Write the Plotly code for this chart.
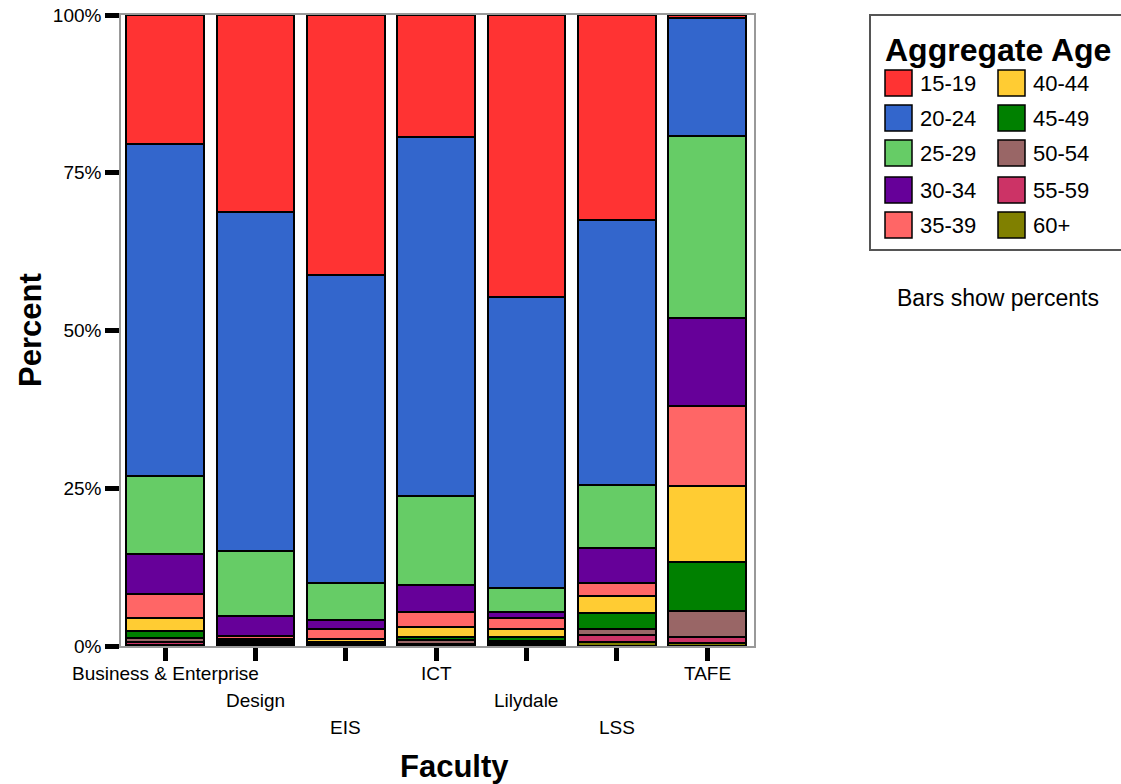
import plotly.graph_objects as go

faculties = ["Business & Enterprise", "Design", "EIS", "ICT", "Lilydale", "LSS", "TAFE"]
age_groups = ["15-19", "20-24", "25-29", "30-34", "35-39", "40-44", "45-49", "50-54", "55-59", "60+"]
colors = ["#FF3333", "#3366CC", "#66CC66", "#660099", "#FF6666",
          "#FFCC33", "#008000", "#996666", "#CC3366", "#808000"]

# percent of each faculty in each age group (columns follow `faculties`)
p_15_19 = [20.4, 31.2, 41.2, 19.3, 44.7, 32.5, 0.5]
p_20_24 = [52.6, 53.7, 48.8, 56.9, 46.1, 42.0, 18.7]
p_25_29 = [12.4, 10.3, 5.9, 14.1, 3.8, 10.0, 28.8]
p_30_34 = [6.3, 3.2, 1.4, 4.3, 1.0, 5.5, 13.9]
p_35_39 = [3.8, 0.5, 1.6, 2.4, 1.7, 2.1, 12.8]
p_40_44 = [2.2, 0.3, 0.4, 1.6, 1.3, 2.7, 12.0]
p_45_49 = [1.1, 0.3, 0.3, 0.5, 0.6, 2.5, 7.8]
p_50_54 = [0.6, 0.3, 0.2, 0.6, 0.4, 1.0, 4.1]
p_55_59 = [0.4, 0.2, 0.2, 0.2, 0.3, 1.1, 1.0]
p_60p = [0.2, 0.0, 0.0, 0.1, 0.1, 0.6, 0.4]

series = [p_15_19, p_20_24, p_25_29, p_30_34, p_35_39,
          p_40_44, p_45_49, p_50_54, p_55_59, p_60p]

y_ticks = [0, 25, 50, 75, 100]
y_tick_labels = ["0%", "25%", "50%", "75%", "100%"]

FONT = "Liberation Sans, Arial, sans-serif"

fig = go.Figure()
# stack from the bottom: oldest group first
for name, vals, col in reversed(list(zip(age_groups, series, colors))):
    fig.add_trace(go.Bar(
        x=faculties, y=vals, name=name,
        marker=dict(color=col, line=dict(color="black", width=2)),
        showlegend=False,
    ))

# plot-area pixel geometry
L, R, T, B = 121, 754, 15, 646
W, H = 1121, 784

def px(x):
    return (x - L) / (R - L)

def py(y):
    return (B - y) / (B - T)

annotations = []
# staggered category labels
for i, f in enumerate(faculties):
    row = i % 3
    annotations.append(dict(
        x=f, xref="x", y=0, yref="paper", yanchor="middle", xanchor="center",
        yshift=-(27 + 27 * row), text=f, showarrow=False,
        font=dict(family=FONT, size=19, color="black"),
    ))

annotations.append(dict(x=px(454), y=py(766), xref="paper", yref="paper",
                        text="<b>Faculty</b>", showarrow=False,
                        font=dict(family=FONT, size=31, color="black"),
                        xanchor="center", yanchor="middle"))
annotations.append(dict(x=px(30), y=py(330), xref="paper", yref="paper",
                        text="<b>Percent</b>", showarrow=False, textangle=-90,
                        font=dict(family=FONT, size=31, color="black"),
                        xanchor="center", yanchor="middle"))
annotations.append(dict(x=px(998), y=py(298), xref="paper", yref="paper",
                        text="Bars show percents", showarrow=False,
                        font=dict(family=FONT, size=23, color="black"),
                        xanchor="center", yanchor="middle"))

shapes = []
# legend box
shapes.append(dict(type="rect", xref="paper", yref="paper",
                   x0=px(870), x1=px(1135), y0=py(15), y1=py(250),
                   line=dict(color="#555555", width=2), fillcolor="white"))
annotations.append(dict(x=px(883), y=py(50), xref="paper", yref="paper",
                        text="<b>Aggregate Age</b>", showarrow=False,
                        font=dict(family=FONT, size=32, color="black"),
                        xanchor="left", yanchor="middle"))
rows_y = [83, 118, 153, 190, 225]
for i, (name, col) in enumerate(zip(age_groups, colors)):
    colx = 885 if i < 5 else 998
    rowy = rows_y[i % 5]
    shapes.append(dict(type="rect", xref="paper", yref="paper",
                       x0=px(colx), x1=px(colx + 27), y0=py(rowy - 13), y1=py(rowy + 13),
                       line=dict(color="black", width=1.5), fillcolor=col))
    annotations.append(dict(x=px(colx + 33), y=py(rowy), xref="paper", yref="paper",
                            text=name, showarrow=False,
                            font=dict(family=FONT, size=22, color="black"),
                            xanchor="left", yanchor="middle"))

fig.update_layout(
    barmode="stack",
    bargap=0.14,
    width=W, height=H,
    margin=dict(l=L, r=W - R, t=T, b=H - B, autoexpand=False),
    paper_bgcolor="white", plot_bgcolor="white",
    font=dict(family=FONT, color="black"),
    annotations=annotations,
    shapes=shapes,
    showlegend=False,
)
fig.update_xaxes(
    range=[-0.49, 6.52],
    showticklabels=False, ticks="outside", ticklen=13, tickwidth=5, tickcolor="black",
    showline=True, linecolor="#999999", linewidth=1.5, mirror=True, showgrid=False,
)
fig.update_yaxes(
    range=[0, 100], tickvals=y_ticks, ticktext=y_tick_labels,
    ticks="outside", ticklen=14, tickwidth=5, tickcolor="black",
    tickfont=dict(family=FONT, size=19, color="black"),
    showline=True, linecolor="#999999", linewidth=1.5, mirror=True,
    showgrid=False, zeroline=False,
)

fig.write_html(
    "out.html",
    config={"displayModeBar": False},
    post_script="document.body.style.margin='0';document.body.style.overflow='hidden';",
)
